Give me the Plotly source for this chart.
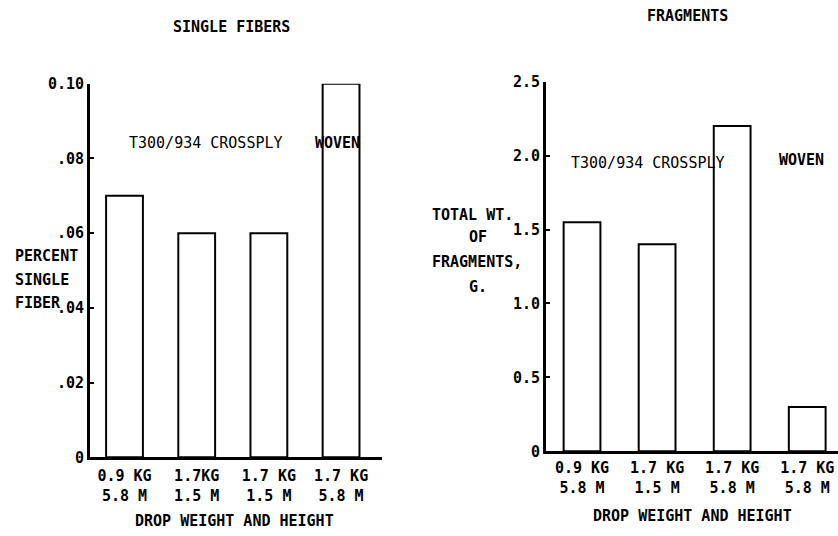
import plotly.graph_objects as go

# Single fibers panel
sf_labels = ["0.9 KG<br>5.8 M", "1.7KG<br>1.5 M", "1.7 KG<br>1.5 M", "1.7 KG<br>5.8 M"]
sf_values = [0.07, 0.06, 0.06, 0.10]
sf_ticks = [0, 0.02, 0.04, 0.06, 0.08, 0.10]
sf_ticktext = ["0", ".02", ".04", ".06", ".08", "0.10"]

# Fragments panel
fr_labels = ["0.9 KG<br>5.8 M", "1.7 KG<br>1.5 M", "1.7 KG<br>5.8 M", "1.7 KG<br>5.8 M"]
fr_values = [1.55, 1.4, 2.2, 0.3]
fr_ticks = [0, 0.5, 1.0, 1.5, 2.0, 2.5]
fr_ticktext = ["0", "0.5", "1.0", "1.5", "2.0", "2.5"]

FONT = "DejaVu Sans Mono, monospace"
W, H = 838, 536

fig = go.Figure()
fig.add_trace(go.Bar(x=list(range(len(sf_values))), y=sf_values, width=0.51,
                     marker=dict(color="white", line=dict(color="black", width=2)),
                     xaxis="x", yaxis="y", cliponaxis=False, showlegend=False))
fig.add_trace(go.Bar(x=list(range(len(fr_values))), y=fr_values, width=0.49,
                     marker=dict(color="white", line=dict(color="black", width=2)),
                     xaxis="x2", yaxis="y2", cliponaxis=False, showlegend=False))


def px_x(p):
    return p / W


def px_y(p):
    # vertical pixel position -> paper fraction
    return 1 - (p - 8) / 520


axis_common = dict(showgrid=False, zeroline=False, showline=True, linecolor="black",
                   linewidth=3, ticks="inside", ticklen=4, tickwidth=2, tickcolor="black",
                   tickfont=dict(family=FONT, size=15, color="black", weight="bold"))

fig.update_layout(
    width=W, height=H, margin=dict(l=0, r=0, t=0, b=0),
    paper_bgcolor="white", plot_bgcolor="white",
    font=dict(family=FONT, color="black"),
    xaxis=dict(domain=[px_x(90), px_x(382)], range=[-0.478, 3.567], anchor="y",
               tickvals=list(range(4)), ticktext=sf_labels, ticklabelstandoff=3,
               **{**axis_common, "ticks": ""}),
    yaxis=dict(domain=[px_y(458), px_y(83)], range=[0, 0.10], anchor="x",
               tickvals=sf_ticks, ticktext=sf_ticktext, **axis_common),
    xaxis2=dict(domain=[px_x(546), 1.0], range=[-0.48, 3.41], anchor="y2",
                tickvals=list(range(4)), ticktext=fr_labels, ticklabelstandoff=1,
                **{**axis_common, "ticks": ""}),
    yaxis2=dict(domain=[px_y(452), px_y(81)], range=[0, 2.5], anchor="x2",
                tickvals=fr_ticks, ticktext=fr_ticktext, **axis_common),
)


def note(text, x, y, size=15, xanchor="center"):
    fig.add_annotation(text=text, x=px_x(x), y=px_y(y), xref="paper", yref="paper",
                       showarrow=False, xanchor=xanchor, yanchor="middle",
                       font=dict(family=FONT, size=size, color="black"))


# Panel titles
note("<b>SINGLE FIBERS</b>", 232, 26)
note("<b>FRAGMENTS</b>", 687, 15)
# Group labels
note("T300/934 CROSSPLY", 206, 143)
note("<b>WOVEN</b>", 337, 143)
note("T300/934 CROSSPLY", 648, 163)
note("<b>WOVEN</b>", 801, 160)
# Axis titles, one line each
for line, y in zip(["PERCENT", "SINGLE", "FIBER"], [256, 280, 303]):
    note("<b>" + line + "</b>", 13, y, xanchor="left")
for line, x, y in zip(["TOTAL WT.", "OF", "FRAGMENTS,", "G."],
                      [472, 478, 477, 478], [215, 237, 262, 287]):
    note("<b>" + line + "</b>", x, y)
note("<b>DROP WEIGHT AND HEIGHT</b>", 234, 522)
note("<b>DROP WEIGHT AND HEIGHT</b>", 692, 517)

fig.write_html("out.html")
